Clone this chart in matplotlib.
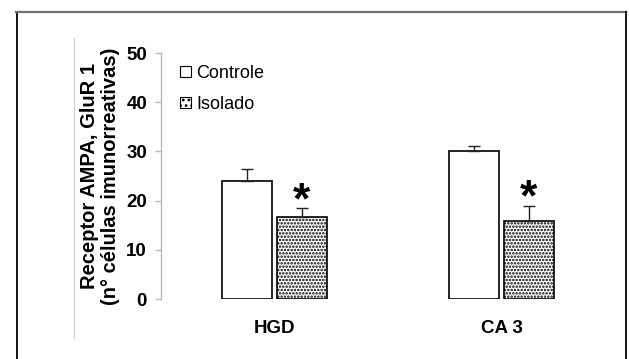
import numpy as np
import matplotlib.pyplot as plt
from matplotlib.patches import Patch
from matplotlib.lines import Line2D

plt.rcParams['font.family'] = ['Liberation Sans', 'DejaVu Sans']
plt.rcParams['hatch.linewidth'] = 1.2

# contagem de células imunorreativas (média e erro padrão)
regioes = ['HGD', 'CA 3']
controle = [24.0, 30.0]
controle_err = [2.5, 1.1]
isolado = [16.7, 15.8]
isolado_err = [1.7, 3.1]
significativo = [True, True]

fig = plt.figure(figsize=(6.29, 3.59), dpi=100)
W, H = 629, 359
ax = fig.add_axes([161 / W, 1 - 299 / H, 454 / W, 246 / H])

x = np.arange(len(regioes))
w = 0.22
off = 0.121
ax.bar(x - off, controle, w, color='white', edgecolor='black', linewidth=1.2,
       yerr=[np.zeros(len(x)), controle_err], capsize=4,
       error_kw=dict(ecolor='#222222', elinewidth=1.0, capthick=1.0))
ax.bar(x + off, isolado, w, color='white', edgecolor='black', linewidth=1.2, hatch='.....',
       yerr=[np.zeros(len(x)), isolado_err], capsize=4,
       error_kw=dict(ecolor='#222222', elinewidth=1.0, capthick=1.0))

for i, sig in enumerate(significativo):
    if sig:
        ax.text(x[i] + off, isolado[i] + isolado_err[i] + 1.4, '*', ha='center', va='center',
                fontsize=32, fontweight='bold')

ax.set_xlim(-0.5, 1.5)
ax.set_ylim(0, 50)
ax.set_yticks([0, 10, 20, 30, 40, 50])
ax.set_xticks(x)
ax.set_xticklabels(regioes, fontsize=13.5, fontweight='bold')
ax.tick_params(axis='x', length=0, pad=15)
ax.tick_params(axis='y', length=4, width=1, color='#b8b8b8', pad=6, labelsize=13.5)
for t in ax.get_yticklabels():
    t.set_fontweight('bold')
for s in ['top', 'right', 'bottom']:
    ax.spines[s].set_visible(False)
ax.spines['left'].set_color('#b8b8b8')
ax.spines['left'].set_linewidth(1)

fig.text(100 / W, 1 - 176 / H, 'Receptor AMPA, GluR 1\n(n° células imunorreativas)',
         rotation=90, ha='center', va='center', multialignment='center',
         fontsize=14.5, fontweight='bold', linespacing=1.1)

handles = [Patch(facecolor='white', edgecolor='black', linewidth=0.8),
           Patch(facecolor='white', edgecolor='black', linewidth=0.8, hatch='...')]
fig.legend(handles, ['Controle', 'Isolado'], loc='upper left',
           bbox_to_anchor=(180 / W, 1 - 65 / H), frameon=False, fontsize=13,
           borderpad=0, borderaxespad=0, handlelength=0.6, handleheight=0.55,
           handletextpad=0.3, labelspacing=0.78)

# moldura e linha guia
fig.add_artist(Line2D([16.5 / W, 16.5 / W], [0, 1 - 12 / H], transform=fig.transFigure,
                      color='black', lw=1.3))
fig.add_artist(Line2D([16 / W, 626 / W], [1 - 12 / H, 1 - 12 / H], transform=fig.transFigure,
                      color='#707070', lw=1.6))
fig.add_artist(Line2D([625.5 / W, 625.5 / W], [0, 1 - 12 / H], transform=fig.transFigure,
                      color='black', lw=1.3))
fig.add_artist(Line2D([74 / W, 74 / W], [1 - 38 / H, 1 - 338 / H], transform=fig.transFigure,
                      color='#cccccc', lw=0.8))

fig.savefig('out.png', dpi=100)
